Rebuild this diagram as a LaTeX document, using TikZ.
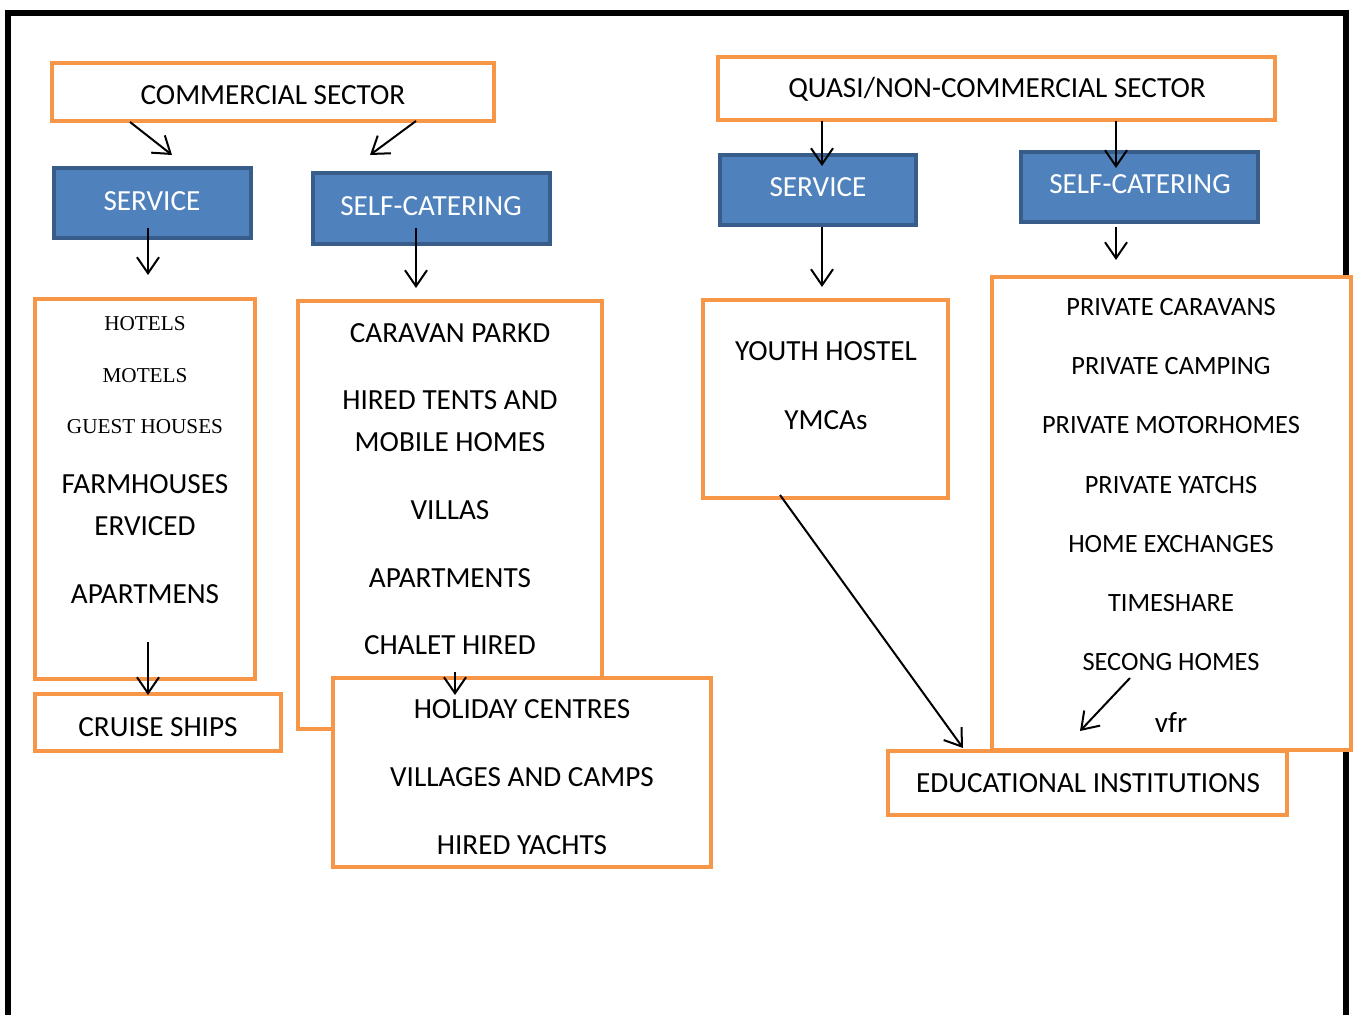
\documentclass[tikz,border=0pt]{standalone}
\usepackage{fontspec}
\setmainfont{Carlito}
\newfontfamily\timesfont{Liberation Serif}
\usetikzlibrary{arrows.meta}
\definecolor{boxorange}{HTML}{F79646}
\definecolor{boxblue}{HTML}{4F81BD}
\definecolor{boxblueline}{HTML}{385D8A}
\tikzset{
  obox/.style={draw=boxorange,line width=2pt,fill=white,inner sep=0pt},
  bbox/.style={draw=boxblueline,line width=1.6pt,fill=boxblue,inner sep=0pt},
  txt/.style={inner sep=0pt,font=\fontsize{14.6}{17}\selectfont},
  wtxt/.style={txt,text=white},
  smalltxt/.style={inner sep=0pt,font=\fontsize{13.2}{16}\selectfont},
  sertxt/.style={inner sep=0pt,font=\timesfont\fontsize{10.6}{13}\selectfont},
  arr/.style={line width=1pt,-{Straight Barb[length=8pt,width=11pt,line width=1pt]}}
}
\begin{document}
\begin{tikzpicture}[x=0.5pt,y=-0.5pt]

            \useasboundingbox (0,0) rectangle (1354,1015);
            % \draw [help lines,step=50] (0,0) grid (1354,1015);

            % frame, open at the bottom
            \draw[line width=2.6pt] (8,1030) -- (8,13) -- (1346,13) -- (1346,1030);

            % commercial side
            \path   (273,92) node (com) [obox,minimum width=221pt,minimum height=29pt] {}
                    (152.5,203) node (lserv) [bbox,minimum width=98.5pt,minimum height=35pt] {}
                    (431.5,208.5) node (lself) [bbox,minimum width=118.5pt,minimum height=35.5pt] {}
                    (145,489) node (hotels) [obox,minimum width=110pt,minimum height=190pt] {}
                    (158,722.5) node (cruise) [obox,minimum width=123pt,minimum height=28.5pt] {}
                    (450,515) node (caravan) [obox,minimum width=152pt,minimum height=214pt] {}
                    (522,772.5) node (holiday) [obox,minimum width=189pt,minimum height=94.5pt] {};

            \path   (273,95) node (com-t) [txt] {COMMERCIAL SECTOR}
                    (152,201) node (lserv-t) [wtxt] {SERVICE}
                    (431,206) node (lself-t) [wtxt] {SELF-CATERING}
                    (145,324) node (hot) [sertxt] {HOTELS}
                    (145,376) node (mot) [sertxt] {MOTELS}
                    (145,427) node (gue) [sertxt] {GUEST HOUSES}
                    (145,484) node (far) [txt] {FARMHOUSES}
                    (145,526) node (erv) [txt] {ERVICED}
                    (145,594) node (apa) [txt] {APARTMENS}
                    (158,727) node (cruise-t) [txt] {CRUISE SHIPS}
                    (450,333) node (car) [txt] {CARAVAN PARKD}
                    (450,400) node (ten) [txt] {HIRED TENTS AND}
                    (450,442) node (mob) [txt] {MOBILE HOMES}
                    (450,510) node (vil) [txt] {VILLAS}
                    (450,578) node (apt) [txt] {APARTMENTS}
                    (450,645) node (cha) [txt] {CHALET HIRED}
                    (522,709) node (hol) [txt] {HOLIDAY CENTRES}
                    (522,777) node (vlc) [txt] {VILLAGES AND CAMPS}
                    (522,845) node (yac) [txt] {HIRED YACHTS};

            % non-commercial side
            \path   (996.5,88.5) node (quasi) [obox,minimum width=278.5pt,minimum height=31.5pt] {}
                    (818,190) node (rserv) [bbox,minimum width=98pt,minimum height=35pt] {}
                    (1139.5,187) node (rself) [bbox,minimum width=118.5pt,minimum height=35pt] {}
                    (825.5,399) node (youth) [obox,minimum width=122.5pt,minimum height=99pt] {}
                    (1171.5,513.5) node (private) [obox,minimum width=179.5pt,minimum height=236.5pt] {}
                    (1087.5,783) node (edu) [obox,minimum width=199.5pt,minimum height=32pt] {};

            \path   (997,89) node (quasi-t) [txt] {QUASI/NON-COMMERCIAL SECTOR}
                    (818,187) node (rserv-t) [wtxt] {SERVICE}
                    (1140,184) node (rself-t) [wtxt] {SELF-CATERING}
                    (826,351) node (yho) [txt] {YOUTH HOSTEL}
                    (826,420) node (ymc) [txt] {YMCAs}
                    (1171,307) node (pca) [smalltxt] {PRIVATE CARAVANS}
                    (1171,366) node (pcm) [smalltxt] {PRIVATE CAMPING}
                    (1171,425) node (pmo) [smalltxt] {PRIVATE MOTORHOMES}
                    (1171,485) node (pya) [smalltxt] {PRIVATE YATCHS}
                    (1171,544) node (hex) [smalltxt] {HOME EXCHANGES}
                    (1171,603) node (tim) [smalltxt] {TIMESHARE}
                    (1171,662) node (sec) [smalltxt] {SECONG HOMES}
                    (1171,722) node (vfr) [txt] {vfr}
                    (1088,783) node (edu-t) [txt] {EDUCATIONAL INSTITUTIONS};

            % arrow ends
            \path   (130,122) coordinate (com-a) (172,155) coordinate (lserv-a)
                    (416,121) coordinate (com-b) (370,155) coordinate (lself-a)
                    (148,228) coordinate (lserv-b) (148,275) coordinate (hotels-a)
                    (416,228) coordinate (lself-b) (416,288) coordinate (caravan-a)
                    (148,642) coordinate (hotels-b) (148,695) coordinate (cruise-a)
                    (455,672) coordinate (caravan-b) (455,695) coordinate (holiday-a)
                    (822,121) coordinate (quasi-a) (822,166) coordinate (rserv-a)
                    (1116,121) coordinate (quasi-b) (1116,168) coordinate (rself-a)
                    (822,227) coordinate (rserv-b) (822,287) coordinate (youth-a)
                    (1116,227) coordinate (rself-b) (1116,260) coordinate (private-a)
                    (780,495) coordinate (youth-b) (963,748) coordinate (edu-a)
                    (1130,678) coordinate (sec-a) (1080,731) coordinate (vfr-a);

            \draw[arr] (com-a) -- (lserv-a);
            \draw[arr] (com-b) -- (lself-a);
            \draw[arr] (lserv-b) -- (hotels-a);
            \draw[arr] (lself-b) -- (caravan-a);
            \draw[arr] (hotels-b) -- (cruise-a);
            \draw[arr] (caravan-b) -- (holiday-a);
            \draw[arr] (quasi-a) -- (rserv-a);
            \draw[arr] (quasi-b) -- (rself-a);
            \draw[arr] (rserv-b) -- (youth-a);
            \draw[arr] (rself-b) -- (private-a);
            \draw[arr] (youth-b) -- (edu-a);
            \draw[arr] (sec-a) -- (vfr-a);

\end{tikzpicture}
\end{document}
